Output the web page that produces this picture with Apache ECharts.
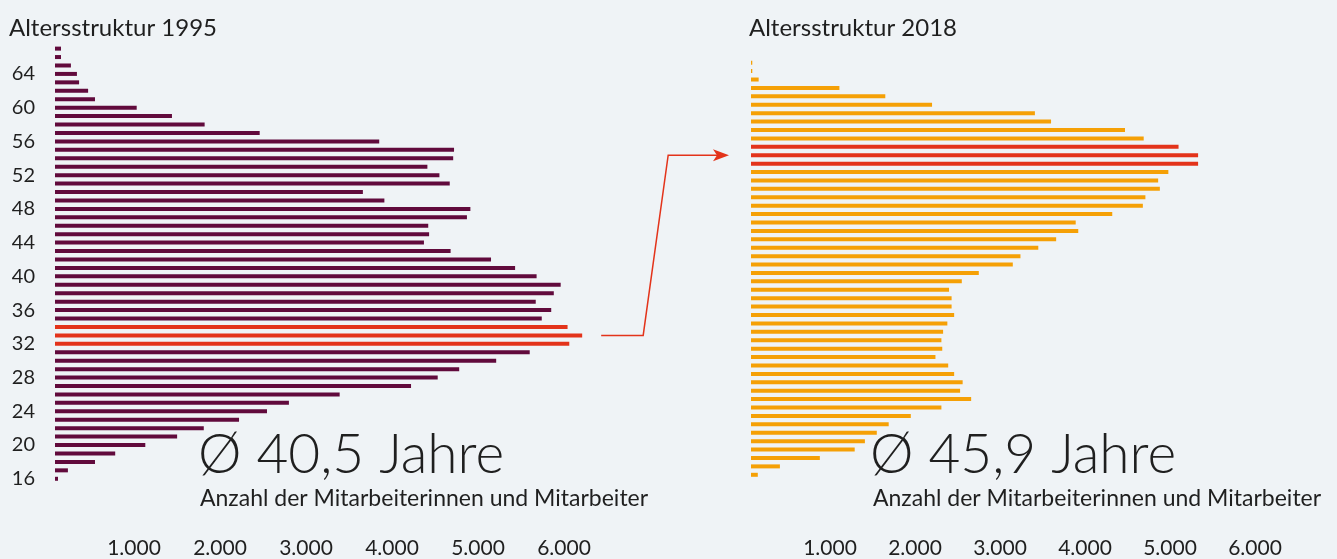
<!DOCTYPE html>
<html>
<head>
<meta charset="utf-8">
<title>Altersstruktur 1995 / 2018</title>
<script src="https://cdn.jsdelivr.net/npm/echarts@6/dist/echarts.min.js"></script>
<style>
  html, body { margin: 0; padding: 0; background: #eff3f6; }
  #chart { width: 1337px; height: 559px; }
</style>
</head>
<body>
<div id="chart"></div>
<script>
// ages (bottom to top) and head count per age
const ages1995 = ['16','17','18','19','20','21','22','23','24','25','26','27','28','29','30','31','32','33','34','35',
  '36','37','38','39','40','41','42','43','44','45','46','47','48','49','50','51','52','53','54','55',
  '56','57','58','59','60','61','62','63','64','65','66','67'];
const count1995 = [35, 150, 465, 700, 1050, 1420, 1730, 2140, 2465, 2720, 3310, 4140, 4450, 4700, 5130, 5520, 5980, 6130, 5960, 5660,
  5770, 5590, 5800, 5880, 5600, 5350, 5070, 4600, 4290, 4350, 4340, 4790, 4830, 3830, 3580, 4590, 4470, 4330, 4630, 4640,
  3770, 2380, 1740, 1360, 950, 465, 385, 280, 255, 185, 70, 70];

const ages2018 = ['18','19','20','21','22','23','24','25','26','27','28','29','30','31','32','33','34','35','36','37',
  '38','39','40','41','42','43','44','45','46','47','48','49','50','51','52','53','54','55','56','57',
  '58','59','60','61','62','63','64','65','66','67'];
const count2018 = [80, 340, 810, 1220, 1340, 1480, 1620, 1880, 2240, 2590, 2460, 2490, 2390, 2320, 2170, 2250, 2240, 2260, 2310, 2390,
  2360, 2360, 2330, 2480, 2680, 3080, 3170, 3380, 3590, 3850, 3820, 4250, 4610, 4640, 4810, 4790, 4910, 5260, 5260, 5030,
  4620, 4400, 3530, 3340, 2130, 1580, 1040, 90, 15, 15];

// same cohort, 23 years later
const cohort1995 = ['32', '33', '34'];
const cohort2018 = ['55', '56', '57'];

const xTicks = [1000, 2000, 3000, 4000, 5000, 6000];

const FONT = 'Lato, "Noto Sans", sans-serif';
const TEXT = '#1f1f1f';
const RED = '#e3331a';

var myChart = echarts.init(document.getElementById('chart'));

function barData(ages, counts, cohort, color) {
    return counts.map((v, i) => ({
        value: v,
        itemStyle: { color: cohort.includes(ages[i]) ? RED : color }
    }));
}

function xAxisFor(gridIndex, shift, margin) {
    return {
        gridIndex: gridIndex,
        type: 'value',
        min: 0,
        max: 6500,
        interval: 1000,
        splitLine: { show: false },
        axisLine: { show: false },
        axisTick: { show: false },
        axisLabel: {
            margin: margin,
            fontFamily: FONT,
            fontSize: 21,
            color: TEXT,
            padding: [0, shift, 0, 0],
            formatter: v => xTicks.includes(v) ? echarts.format.addCommas(v).replace(',', '.') : ''
        }
    };
}

var option = {
    backgroundColor: '#eff3f6',
    animation: false,
    title: [
        { text: 'Altersstruktur 1995', left: 4, top: 11,
          textStyle: { fontFamily: FONT, fontSize: 24, fontWeight: 'normal', color: TEXT } },
        { text: 'Altersstruktur 2018', left: 744, top: 11,
          textStyle: { fontFamily: FONT, fontSize: 24, fontWeight: 'normal', color: TEXT } }
    ],
    grid: [
        { left: 55, right: 723, top: 44.4, bottom: 72 },
        { left: 751, right: 33.5, top: 58.5, bottom: 76.1 }
    ],
    xAxis: [xAxisFor(0, 14, 55), xAxisFor(1, 12, 59)],
    yAxis: [
        {
            gridIndex: 0,
            type: 'category',
            data: ages1995,
            axisLine: { show: false },
            axisTick: { show: false },
            axisLabel: {
                margin: 20,
                fontFamily: FONT,
                fontSize: 20,
                color: TEXT,
                padding: [0, 0, 13, 0],
                interval: (i, v) => (+v - 16) % 4 === 0 && +v <= 64
            }
        },
        {
            gridIndex: 1,
            type: 'category',
            data: ages2018,
            axisLine: { show: false },
            axisTick: { show: false },
            axisLabel: { show: false }
        }
    ],
    series: [
        {
            type: 'bar',
            xAxisIndex: 0,
            yAxisIndex: 0,
            barWidth: 4,
            data: barData(ages1995, count1995, cohort1995, '#610a3c')
        },
        {
            type: 'bar',
            xAxisIndex: 1,
            yAxisIndex: 1,
            barWidth: 4,
            data: barData(ages2018, count2018, cohort2018, '#f5a006')
        }
    ]
};
myChart.setOption(option);

// arrow from the middle of the 1995 cohort to the same people in 2018
const from = myChart.convertToPixel({ xAxisIndex: 0, yAxisIndex: 0 }, [count1995[ages1995.indexOf('33')], '33']);
const to = myChart.convertToPixel({ xAxisIndex: 1, yAxisIndex: 1 }, [0, '56']);
const x0 = from[0] + 19, x1 = x0 + 42, x2 = x1 + 25, xTip = to[0] - 22;

myChart.setOption({
    graphic: [
        { type: 'polyline', silent: true,
          shape: { points: [[x0, from[1]], [x1, from[1]], [x2, to[1]], [xTip - 10, to[1]]] },
          style: { stroke: RED, lineWidth: 1.5, fill: null } },
        { type: 'polygon', silent: true,
          shape: { points: [[xTip - 16, to[1] - 6], [xTip, to[1]], [xTip - 16, to[1] + 6], [xTip - 12, to[1]]] },
          style: { fill: RED } },
        { type: 'text', left: 198, top: 428,
          style: { text: 'Ø 40,5 Jahre', fontFamily: FONT, fontSize: 55, fontWeight: 300, fill: TEXT } },
        { type: 'text', left: 200, top: 487,
          style: { text: 'Anzahl der Mitarbeiterinnen und Mitarbeiter', fontFamily: FONT, fontSize: 23, fill: TEXT } },
        { type: 'text', left: 870, top: 428,
          style: { text: 'Ø 45,9 Jahre', fontFamily: FONT, fontSize: 55, fontWeight: 300, fill: TEXT } },
        { type: 'text', left: 873, top: 487,
          style: { text: 'Anzahl der Mitarbeiterinnen und Mitarbeiter', fontFamily: FONT, fontSize: 23, fill: TEXT } }
    ]
});
</script>
</body>
</html>
